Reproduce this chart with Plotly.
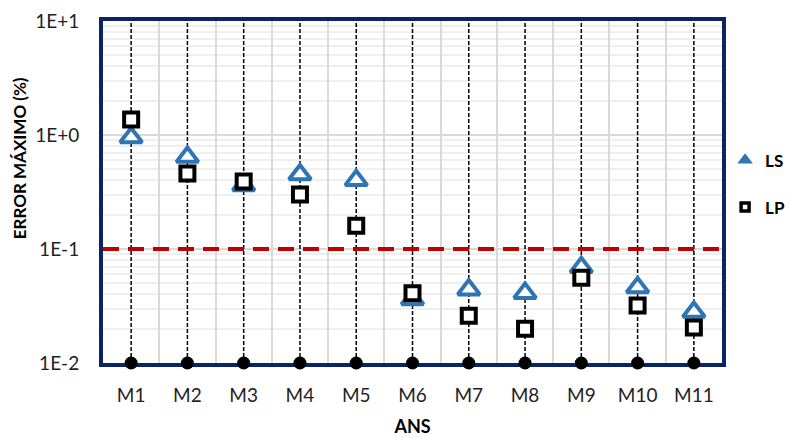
import plotly.graph_objects as go

# Maximum error per model, two methods
models = ["M1", "M2", "M3", "M4", "M5", "M6", "M7", "M8", "M9", "M10", "M11"]
ls_err = [0.95, 0.64, 0.36, 0.45, 0.40, 0.036, 0.044, 0.041, 0.069, 0.046, 0.028]
lp_err = [1.37, 0.46, 0.39, 0.30, 0.16, 0.041, 0.026, 0.020, 0.056, 0.032, 0.0205]

y_ticks = [0.01, 0.1, 1, 10]
y_tick_text = ["1E-2", "1E-1", "1E+0", "1E+1"]
y_min, y_max = 0.01, 10
threshold = 0.1

FONT = "Lato"
NAVY = "#0B2463"
BLUE = "#2E75B6"
TEXT = "#1f1f1f"

fig = go.Figure()

# dashed drop lines spanning the full height at every model
drop_x, drop_y = [], []
for m in models:
    drop_x += [m, m, None]
    drop_y += [y_min, y_max, None]
fig.add_trace(go.Scatter(
    x=drop_x, y=drop_y, mode="lines",
    line=dict(color="black", width=1.5, dash="4px,2px"),
    showlegend=False, hoverinfo="skip",
))

# dots at the base of each drop line
fig.add_trace(go.Scatter(
    x=models, y=[y_min] * len(models), mode="markers",
    marker=dict(color="black", size=13),
    showlegend=False, hoverinfo="skip", cliponaxis=False,
))

fig.add_trace(go.Scatter(
    x=models, y=ls_err, mode="markers", name="LS", showlegend=False,
    marker=dict(symbol="triangle-up", size=19, color="white",
                line=dict(color=BLUE, width=4)),
    cliponaxis=False,
))
fig.add_trace(go.Scatter(
    x=models, y=lp_err, mode="markers", name="LP", showlegend=False,
    marker=dict(symbol="square", size=14, color="white",
                line=dict(color="black", width=4)),
    cliponaxis=False,
))

# compact legend keys
fig.add_trace(go.Scatter(
    x=[None], y=[None], mode="markers", name="LS", legendgroup="ls",
    marker=dict(symbol="triangle-up", size=10, color=BLUE,
                line=dict(color=BLUE, width=2)),
))
fig.add_trace(go.Scatter(
    x=[None], y=[None], mode="markers", name="LP", legendgroup="lp",
    marker=dict(symbol="square", size=8, color="white",
                line=dict(color="black", width=3.5)),
))

# 0.1 % threshold
fig.add_shape(type="line", xref="paper", x0=0, x1=1, yref="y",
              y0=threshold, y1=threshold,
              line=dict(color="#C00000", width=4, dash="16px,9px"), layer="above")

# y-axis title, placed a little above the plot's vertical centre
fig.add_annotation(
    text="<b>ERROR MÁXIMO (%)</b>", textangle=-90,
    xref="paper", yref="paper", x=-0.135, y=0.6,
    xanchor="center", yanchor="middle", showarrow=False,
    font=dict(size=17, family=FONT, color="black"),
)

fig.update_layout(
    width=791, height=437,
    margin=dict(l=103, r=69, t=21, b=74, autoexpand=False),
    paper_bgcolor="white", plot_bgcolor="white",
    font=dict(family=FONT, color=TEXT, size=19),
    legend=dict(x=1.005, y=0.645, xanchor="left", yanchor="top",
                font=dict(family=FONT, size=17, color="black", weight="bold"),
                traceorder="grouped", tracegroupgap=22,
                itemwidth=30, bgcolor="rgba(0,0,0,0)"),
    xaxis=dict(
        type="category", categoryorder="array", categoryarray=models,
        range=[-0.5, len(models) - 0.5], automargin=False,
        tickson="boundaries", showgrid=True, gridcolor="#D9D9D9", gridwidth=2,
        showline=True, mirror=True, linecolor=NAVY, linewidth=4,
        ticks="", ticklabelstandoff=12,
        title=dict(text="<b>ANS</b>", font=dict(size=18, family=FONT, color="black"),
                   standoff=18),
        layer="below traces",
    ),
    yaxis=dict(
        type="log", range=[-2, 1], automargin=False,
        tickvals=y_ticks, ticktext=y_tick_text,
        showgrid=True, gridcolor="#D9D9D9", gridwidth=2,
        minor=dict(dtick="D1", showgrid=True, gridcolor="#EFEFEF", gridwidth=1.5, ticks=""),
        showline=True, mirror=True, linecolor=NAVY, linewidth=4,
        ticks="", ticklabelstandoff=16, zeroline=False,
        layer="below traces",
    ),
)

fig.write_html("out.html")
